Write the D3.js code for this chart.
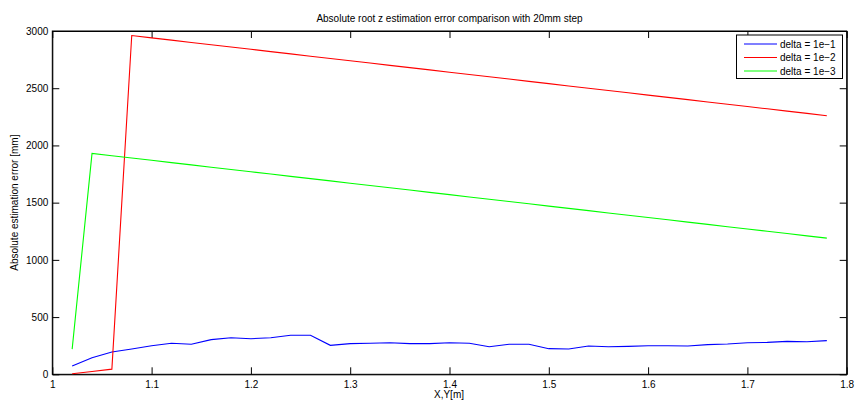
<!DOCTYPE html>
<html><head><meta charset="utf-8">
<script src="https://cdn.jsdelivr.net/npm/d3@7"></script>
<style>body{margin:0;background:#fff;}svg{display:block;font-family:"Liberation Sans",Arial,sans-serif;}</style>
</head><body>
<svg id="c" width="855" height="405"></svg>
<script>
const xValues = [1.02,1.04,1.06,1.08,1.10,1.12,1.14,1.16,1.18,1.20,1.22,1.24,1.26,1.28,1.30,1.32,1.34,1.36,1.38,1.40,1.42,1.44,1.46,1.48,1.50,1.52,1.54,1.56,1.58,1.60,1.62,1.64,1.66,1.68,1.70,1.72,1.74,1.76,1.78];
const blueValues = [72,145,195,221,250,271,262,303,320,311,320,341,341,253,268,271,276,268,268,276,271,241,262,262,224,221,247,241,244,250,250,247,259,265,276,279,288,285,294];
const redValues = [5,25,45,2960,2940,2920,2900,2880,2860,2840,2820,2800,2780,2760,2740,2720,2700,2680,2660,2640,2620,2600,2580,2560,2540,2520,2500,2480,2460,2440,2420,2400,2380,2360,2340,2320,2300,2280,2260];
const greenValues = [220,1930,1910,1890,1870,1850,1830,1810,1790,1770,1750,1730,1710,1690,1670,1650,1630,1610,1590,1570,1550,1530,1510,1490,1470,1450,1430,1410,1390,1370,1350,1330,1310,1290,1270,1250,1230,1210,1190];
const seriesNames = ["delta = 1e\u22121","delta = 1e\u22122","delta = 1e\u22123"];
const seriesColors = ["#0000ff","#ff0000","#00ff00"];
const xTicks = [1,1.1,1.2,1.3,1.4,1.5,1.6,1.7,1.8];
const yTicks = [0,500,1000,1500,2000,2500,3000];
const titleText = "Absolute root z estimation error comparison with 20mm step";
const xLabel = "X,Y[m]";
const yLabel = "Absolute estimation error [mm]";

const svg = d3.select("#c");
const L=52.3, R=846.7, T=31, B=374.3;
const x = d3.scaleLinear().domain([1,1.8]).range([L,R]);
const y = d3.scaleLinear().domain([0,3000]).range([B,T]);
const tl = 7;

svg.append("rect").attr("x",L).attr("y",T).attr("width",R-L).attr("height",B-T)
  .attr("fill","#fff").attr("stroke","#000").attr("stroke-width",1);

const xb = svg.append("g").attr("transform",`translate(0,${B})`)
  .call(d3.axisBottom(x).tickValues(xTicks).tickSizeInner(-tl).tickSizeOuter(0).tickPadding(7).tickFormat(d3.format("")));
const xt = svg.append("g").attr("transform",`translate(0,${T})`)
  .call(d3.axisTop(x).tickValues(xTicks).tickSizeInner(-tl).tickSizeOuter(0).tickFormat(""));
const yl = svg.append("g").attr("transform",`translate(${L},0)`)
  .call(d3.axisLeft(y).tickValues(yTicks).tickSizeInner(-tl).tickSizeOuter(0).tickPadding(4).tickFormat(d3.format("")));
const yr = svg.append("g").attr("transform",`translate(${R},0)`)
  .call(d3.axisRight(y).tickValues(yTicks).tickSizeInner(-tl).tickSizeOuter(0).tickFormat(""));
[xb,xt,yl,yr].forEach(g=>{
  g.select(".domain").attr("stroke","#000");
  g.selectAll(".tick line").attr("stroke","#000");
  g.selectAll("text").attr("fill","#000").style("font-size","10px").style("font-family","Liberation Sans, Arial, sans-serif");
});

const all = [blueValues, redValues, greenValues];
const line = d3.line().x((d,i)=>x(xValues[i])).y(d=>y(d));
all.forEach((vals,k)=>{
  svg.append("path").datum(vals).attr("d",line).attr("fill","none")
    .attr("stroke",seriesColors[k]).attr("stroke-width",1.1);
});

svg.append("text").attr("x",(L+R)/2).attr("y",22).attr("text-anchor","middle")
  .style("font-size","10px").text(titleText);
svg.append("text").attr("x",449).attr("y",398).attr("text-anchor","middle")
  .style("font-size","10px").text(xLabel);
svg.append("text").attr("transform",`translate(18,${(T+B)/2}) rotate(-90)`).attr("text-anchor","middle")
  .style("font-size","10px").text(yLabel);

const lg = svg.append("g");
lg.append("rect").attr("x",736.5).attr("y",35).attr("width",106).attr("height",43.5)
  .attr("fill","#fff").attr("stroke","#000").attr("stroke-width",1);
seriesNames.forEach((n,i)=>{
  const yy = 44 + i*13.5;
  lg.append("line").attr("x1",744).attr("x2",777).attr("y1",yy).attr("y2",yy)
    .attr("stroke",seriesColors[i]).attr("stroke-width",1.1);
  lg.append("text").attr("x",780).attr("y",yy+3.5).style("font-size","10px").text(n);
});
</script>
</body></html>
